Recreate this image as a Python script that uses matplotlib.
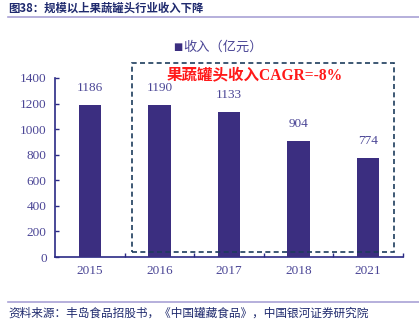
import matplotlib
matplotlib.use("Agg")
import matplotlib.pyplot as plt
from matplotlib.patches import Rectangle
from matplotlib.lines import Line2D

years = ["2015", "2016", "2017", "2018", "2021"]
revenue = [1186, 1190, 1133, 904, 774]
yticks = [0, 200, 400, 600, 800, 1000, 1200, 1400]

title = "图38：规模以上果蔬罐头行业收入下降"
legend_label = "收入（亿元）"
note = "果蔬罐头收入CAGR=-8%"
source = "资料来源：丰岛食品招股书，《中国罐藏食品》，中国银河证券研究院"

bar_color = "#3b2e80"
axis_color = "#2b2a85"
text_color = "#4b4696"
navy = "#1f2a6e"
rule_color = "#a9a2d6"
serif = ["Liberation Serif", "Noto Sans CJK SC"]
cjk = ["Noto Sans CJK SC", "DejaVu Sans"]

W, H = 419, 325
fig = plt.figure(figsize=(W / 100, H / 100), dpi=100)
ax = fig.add_axes([55 / W, 1 - 257 / H, 348 / W, 179 / H])

x = list(range(len(years)))
ax.bar(x, revenue, width=0.32, color=bar_color, zorder=3)
for xi, v in zip(x, revenue):
    ax.annotate(str(v), (xi, v), xytext=(0, 8), textcoords="offset points",
                ha="center", va="bottom", fontsize=9.5, color=text_color,
                family=serif)

ax.set_xlim(-0.5, len(years) - 0.5)
ax.set_ylim(0, 1400)
ax.set_yticks(yticks)
ax.set_yticklabels([str(t) for t in yticks], family=serif, fontsize=9.5, color=text_color)
ax.set_xticks(x)
ax.set_xticklabels(years, family=serif, fontsize=9.5, color=text_color)
ax.tick_params(axis="x", length=0, pad=6)
ax.set_xticks([i + 0.5 for i in x], minor=True)
ax.tick_params(axis="x", which="minor", direction="in", length=3, color=axis_color, width=1)
ax.tick_params(axis="y", direction="in", length=3, color=axis_color, width=1, pad=6)
for s in ["top", "right"]:
    ax.spines[s].set_visible(False)
for s in ["left", "bottom"]:
    ax.spines[s].set_color(axis_color)
    ax.spines[s].set_linewidth(1.2)

# dashed box
box = Rectangle((132 / W, 1 - 252 / H), (394 - 132) / W, (252 - 63) / H,
                transform=fig.transFigure, fill=False, edgecolor="#1d3c5c",
                linestyle=(0, (3, 2)), linewidth=1.2, zorder=5)
fig.patches.append(box)
fig.text(255 / W, 1 - 75 / H, note, ha="center", va="center", fontsize=11.2,
         fontweight="bold", color="#ff1a1a", family=serif)

# legend
fig.text(178 / W, 1 - 47 / H, "■", ha="center", va="center", fontsize=7,
         color=bar_color, family=["DejaVu Sans"])
fig.text(183 / W, 1 - 47 / H, legend_label, ha="left", va="center", fontsize=9.5,
         color=text_color, family=cjk)

# title and rules
fig.text(8 / W, 1 - 8 / H, title, ha="left", va="center", fontsize=8.2,
         fontweight="bold", color=navy, family=cjk)
fig.add_artist(Line2D([8 / W, 1], [1 - 17 / H] * 2, transform=fig.transFigure,
                      color=rule_color, linewidth=1.2))
fig.add_artist(Line2D([8 / W, 1], [1 - 302 / H] * 2, transform=fig.transFigure,
                      color=rule_color, linewidth=1.2))
fig.text(8 / W, 1 - 313 / H, source, ha="left", va="center", fontsize=8.4,
         color=navy, family=cjk, style="italic")

fig.savefig("out.png", dpi=100)
